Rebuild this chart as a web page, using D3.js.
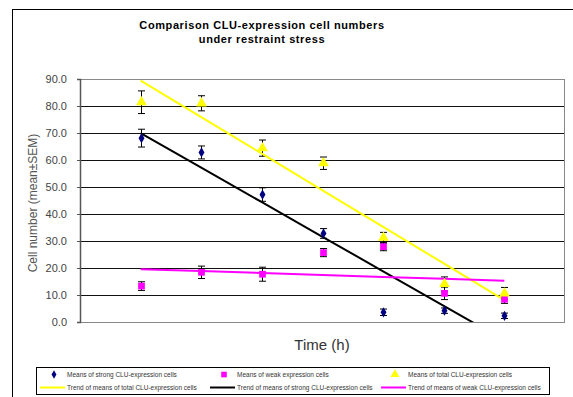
<!DOCTYPE html>
<html lang="en">
<meta charset="UTF-8">
<title>CLU-expression cell numbers</title>
<style>
body {margin:0; background:#fff}
text {font-family: "Liberation Sans", Arial, sans-serif}
</style>
<body>
<div id="my_dataviz"></div>
<script src="https://d3js.org/d3.v7.min.js"></script>
<script>
// data
var timePoints = [1, 2, 3, 4, 5, 6, 7]
var strongMean = [68.1, 62.8, 47.2, 32.8, 3.6, 4.2, 2.3]
var strongSem  = [3.3, 2.4, 2.5, 1.8, 1.2, 1.0, 1.0]
var weakMean   = [13.3, 18.4, 17.7, 25.7, 27.9, 10.6, 8.4]
var weakSem    = [1.6, 2.3, 2.6, 1.5, 1.5, 2.3, 1.5]
var totalMean  = [81.4, 81.0, 64.4, 58.8, 31.2, 14.1, 10.6]
var totalSem   = [4.2, 2.8, 3.0, 2.3, 2.0, 2.6, 2.2]
var yTicks = [0, 10, 20, 30, 40, 50, 60, 70, 80, 90]

var W = 573, H = 397
var margin = {top: 79, right: 8, bottom: 75, left: 80},
    width = W - margin.left - margin.right,
    height = H - margin.top - margin.bottom

var svg = d3.select("#my_dataviz")
  .append("svg")
    .attr("width", W)
    .attr("height", H)

// outer chart frame (cropped on the right and bottom)
svg.append("rect")
  .attr("x", 12.5).attr("y", 9.5)
  .attr("width", 700).attr("height", 500)
  .attr("fill", "none").attr("stroke", "#000")

// title
svg.append("text")
  .attr("x", 262).attr("y", 29)
  .attr("text-anchor", "middle")
  .style("font-size", "11px").style("font-weight", "bold")
  .style("letter-spacing", "0.6px")
  .text("Comparison CLU-expression cell numbers")
svg.append("text")
  .attr("x", 262).attr("y", 43)
  .attr("text-anchor", "middle")
  .style("font-size", "11px").style("font-weight", "bold")
  .style("letter-spacing", "0.6px")
  .text("under restraint stress")

var g = svg.append("g")
  .attr("transform", "translate(" + margin.left + "," + margin.top + ")")

var x = d3.scaleLinear().domain([0, 8]).range([0, width])
var y = d3.scaleLinear().domain([0, 90]).range([height, 0])

// grid lines
g.append("g")
  .selectAll("line")
  .data(yTicks.slice(1, -1))
  .enter().append("line")
    .attr("x1", 0).attr("x2", width)
    .attr("y1", function(d) { return Math.round(y(d)) + 0.5 })
    .attr("y2", function(d) { return Math.round(y(d)) + 0.5 })
    .attr("stroke", "#111")

// plot frame
g.append("rect")
  .attr("x", 0.5).attr("y", 0.5)
  .attr("width", width - 1).attr("height", height)
  .attr("fill", "none").attr("stroke", "#888")

// y axis
var yAxis = g.append("g")
  .call(d3.axisLeft(y).tickValues(yTicks).tickSize(3).tickPadding(10)
    .tickFormat(d3.format(".1f")))
yAxis.select(".domain").attr("stroke", "#555").attr("stroke-width", 1.5)
yAxis.selectAll(".tick line").attr("stroke", "#555")
yAxis.selectAll("text")
  .style("font-size", "11px").style("fill", "#444")
  .style("font-family", "Liberation Sans, Arial, sans-serif")

// axis titles
svg.append("text")
  .attr("transform", "translate(37," + 203 + ") rotate(-90)")
  .attr("text-anchor", "middle")
  .style("font-size", "12px").style("fill", "#555")
  .text("Cell number (mean\u00B1SEM)")
svg.append("text")
  .attr("x", 322).attr("y", 350)
  .attr("text-anchor", "middle")
  .style("font-size", "15px").style("fill", "#333")
  .text("Time (h)")

// linear trend (least squares) of the means
function trend(vals) {
  var mx = d3.mean(timePoints), my = d3.mean(vals)
  var sxy = d3.sum(timePoints, function(t, i) { return (t - mx) * (vals[i] - my) })
  var sxx = d3.sum(timePoints, function(t) { return (t - mx) * (t - mx) })
  var b = sxy / sxx, a = my - b * mx
  return timePoints.map(function(t) { return [t, a + b * t] })
}

g.append("clipPath").attr("id", "plotclip")
  .append("rect").attr("width", width).attr("height", height)

var line = d3.line()
  .x(function(d) { return x(d[0]) })
  .y(function(d) { return y(d[1]) })

var series = [
  {name: "strong", mean: strongMean, sem: strongSem, color: "#000080", trend: "#000"},
  {name: "weak", mean: weakMean, sem: weakSem, color: "#ff00ff", trend: "#ff00ff"},
  {name: "total", mean: totalMean, sem: totalSem, color: "#ffff00", trend: "#ffff00"}
]

// error bars
series.forEach(function(s) {
  var eb = g.append("g").attr("stroke", "#000").attr("stroke-width", 1)
  timePoints.forEach(function(t, i) {
    var cx = Math.round(x(t)) + 0.5
    var top = y(s.mean[i] + s.sem[i]), bot = y(s.mean[i] - s.sem[i])
    eb.append("line").attr("x1", cx).attr("x2", cx).attr("y1", top).attr("y2", bot)
    eb.append("line").attr("x1", cx - 3.5).attr("x2", cx + 3.5).attr("y1", top).attr("y2", top)
    eb.append("line").attr("x1", cx - 3.5).attr("x2", cx + 3.5).attr("y1", bot).attr("y2", bot)
  })
})

// trend lines
var trendOrder = [series[2], series[0], series[1]]
trendOrder.forEach(function(s) {
  g.append("path")
    .datum(trend(s.mean))
    .attr("clip-path", "url(#plotclip)")
    .attr("fill", "none")
    .attr("stroke", s.trend)
    .attr("stroke-width", 2)
    .attr("d", line)
})

// markers
var symbols = {strong: d3.symbolDiamond, weak: d3.symbolSquare, total: d3.symbolTriangle}
var sizes = {strong: 30, weak: 45, total: 50}
series.forEach(function(s) {
  g.append("g").selectAll("path")
    .data(s.mean)
    .enter().append("path")
      .attr("transform", function(d, i) { return "translate(" + (Math.round(x(timePoints[i])) + 0.5) + "," + y(d) + ")" })
      .attr("d", d3.symbol().type(symbols[s.name]).size(sizes[s.name]))
      .attr("fill", s.color)
})

// legend
var leg = svg.append("g")
leg.append("rect")
  .attr("x", 36.5).attr("y", 367.5)
  .attr("width", 513).attr("height", 27)
  .attr("fill", "#fff").attr("stroke", "#000")

var legItems = [
  {kind: "symbol", s: "strong", label: "Means of strong CLU-expression cells", col: 0, row: 0},
  {kind: "symbol", s: "weak", label: "Means of weak expression cells", col: 1, row: 0},
  {kind: "symbol", s: "total", label: "Means of total CLU-expression cells", col: 2, row: 0},
  {kind: "line", s: "total", label: "Trend of means of total CLU-expression cells", col: 0, row: 1},
  {kind: "line", s: "strong", label: "Trend of means of strong CLU-expression cells", col: 1, row: 1},
  {kind: "line", s: "weak", label: "Trend of means of weak CLU-expression cells", col: 2, row: 1}
]
var colX = [40, 210, 381]
var rowY = [374.5, 387.5]
var byName = {strong: series[0], weak: series[1], total: series[2]}

legItems.forEach(function(it) {
  var lx = colX[it.col], ly = rowY[it.row]
  var s = byName[it.s]
  if (it.kind == "symbol") {
    leg.append("path")
      .attr("transform", "translate(" + (lx + 14) + "," + ly + ")")
      .attr("d", d3.symbol().type(symbols[it.s]).size(sizes[it.s] * 0.7))
      .attr("fill", s.color)
  } else {
    leg.append("line")
      .attr("x1", lx).attr("x2", lx + 25)
      .attr("y1", ly).attr("y2", ly)
      .attr("stroke", s.trend).attr("stroke-width", 2)
  }
  leg.append("text")
    .attr("x", lx + 27).attr("y", ly + 2.3)
    .style("font-size", "6.5px").style("fill", "#333")
    .text(it.label)
})
</script>
</body>
</html>
